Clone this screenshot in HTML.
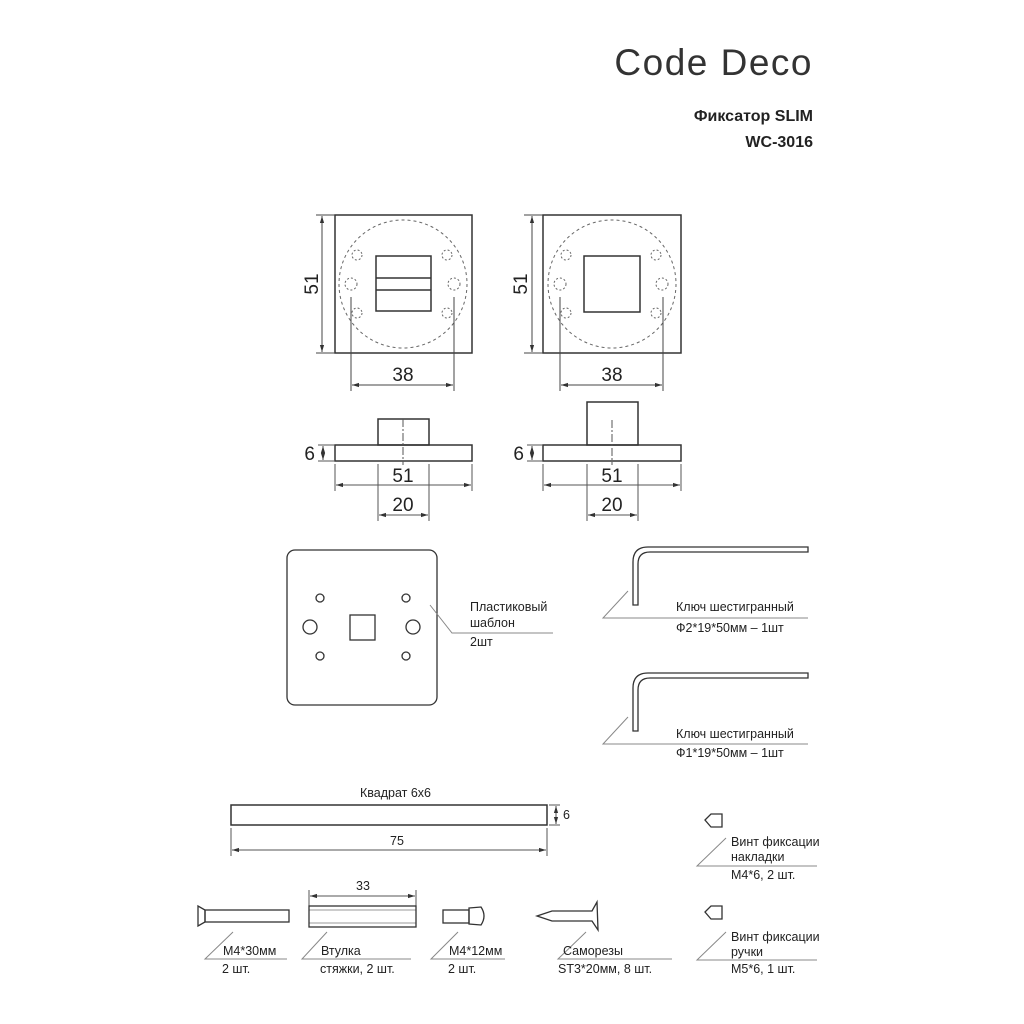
<!DOCTYPE html>
<html><head><meta charset="utf-8"><style>
html,body{margin:0;padding:0;background:#fff;}
svg{display:block;}
text{font-family:"Liberation Sans","Noto Sans CJK SC",sans-serif;fill:#222;}
.l{font-size:12.5px;}
.d{font-size:19px;}
</style></head><body>
<svg width="1024" height="1024" viewBox="0 0 1024 1024" xmlns="http://www.w3.org/2000/svg">
<defs>
<marker id="a" viewBox="0 0 10 10" refX="10" refY="5" markerWidth="7" markerHeight="7" orient="auto-start-reverse"><path d="M0,2 L10,5 L0,8 z" fill="#333"/></marker>
</defs>
<text x="813" y="75" text-anchor="end" style="font-size:37px;letter-spacing:1.5px;fill:#333">Code Deco</text>
<text x="813" y="121" text-anchor="end" style="font-size:16px;font-weight:bold">Фиксатор SLIM</text>
<text x="813" y="147" text-anchor="end" style="font-size:16px;font-weight:bold">WC-3016</text>

<g stroke="#333" fill="none" stroke-width="1.5">
<rect x="335" y="215" width="137" height="138"/>
<circle cx="403" cy="284" r="64" stroke-dasharray="3,3" stroke-width="1" stroke="#666"/>
<rect x="376" y="256" width="55" height="55"/>
<line x1="376" y1="278" x2="431" y2="278"/><line x1="376" y1="290" x2="431" y2="290"/>
<g stroke-dasharray="2,2" stroke-width="1" stroke="#666">
<circle cx="357" cy="255" r="5"/><circle cx="357" cy="313" r="5"/><circle cx="351" cy="284" r="6"/>
<circle cx="447" cy="255" r="5"/><circle cx="447" cy="313" r="5"/><circle cx="454" cy="284" r="6"/>
</g>
<rect x="543" y="215" width="138" height="138"/>
<circle cx="612" cy="284" r="64" stroke-dasharray="3,3" stroke-width="1" stroke="#666"/>
<rect x="584" y="256" width="56" height="56"/>
<g stroke-dasharray="2,2" stroke-width="1" stroke="#666">
<circle cx="566" cy="255" r="5"/><circle cx="566" cy="313" r="5"/><circle cx="560" cy="284" r="6"/>
<circle cx="656" cy="255" r="5"/><circle cx="656" cy="313" r="5"/><circle cx="662" cy="284" r="6"/>
</g>
</g>
<g stroke="#444" fill="none" stroke-width="1">
<line x1="316" y1="215" x2="335" y2="215"/><line x1="316" y1="353" x2="335" y2="353"/>
<line x1="322" y1="216" x2="322" y2="352" marker-start="url(#a)" marker-end="url(#a)"/>
<line x1="524" y1="215" x2="543" y2="215"/><line x1="524" y1="353" x2="543" y2="353"/>
<line x1="532" y1="216" x2="532" y2="352" marker-start="url(#a)" marker-end="url(#a)"/>
<line x1="351" y1="297" x2="351" y2="391"/><line x1="454" y1="297" x2="454" y2="391"/>
<line x1="352" y1="385" x2="453" y2="385" marker-start="url(#a)" marker-end="url(#a)"/>
<line x1="560" y1="297" x2="560" y2="391"/><line x1="663" y1="297" x2="663" y2="391"/>
<line x1="561" y1="385" x2="662" y2="385" marker-start="url(#a)" marker-end="url(#a)"/>
</g>
<text class="d" transform="translate(318,284) rotate(-90)" text-anchor="middle">51</text>
<text class="d" transform="translate(527,284) rotate(-90)" text-anchor="middle">51</text>
<text class="d" x="403" y="381" text-anchor="middle">38</text>
<text class="d" x="612" y="381" text-anchor="middle">38</text>

<g stroke="#333" fill="none" stroke-width="1.5">
<rect x="335" y="445" width="137" height="16"/><rect x="378" y="419" width="51" height="26"/>
<rect x="543" y="445" width="138" height="16"/><rect x="587" y="402" width="51" height="43"/>
</g>
<g stroke="#555" fill="none" stroke-width="1">
<line x1="403" y1="419" x2="403" y2="465" stroke-dasharray="8,2,2,2"/>
<line x1="612" y1="420" x2="612" y2="465" stroke-dasharray="8,2,2,2"/>
<line x1="318" y1="445" x2="335" y2="445"/><line x1="318" y1="461" x2="335" y2="461"/>
<line x1="323" y1="446" x2="323" y2="460" marker-start="url(#a)" marker-end="url(#a)"/>
<line x1="527" y1="445" x2="543" y2="445"/><line x1="527" y1="461" x2="543" y2="461"/>
<line x1="532" y1="446" x2="532" y2="460" marker-start="url(#a)" marker-end="url(#a)"/>
<line x1="335" y1="464" x2="335" y2="491"/><line x1="472" y1="464" x2="472" y2="491"/>
<line x1="336" y1="485" x2="471" y2="485" marker-start="url(#a)" marker-end="url(#a)"/>
<line x1="543" y1="464" x2="543" y2="491"/><line x1="681" y1="464" x2="681" y2="491"/>
<line x1="544" y1="485" x2="680" y2="485" marker-start="url(#a)" marker-end="url(#a)"/>
<line x1="378" y1="464" x2="378" y2="521"/><line x1="429" y1="464" x2="429" y2="521"/>
<line x1="379" y1="515" x2="428" y2="515" marker-start="url(#a)" marker-end="url(#a)"/>
<line x1="587" y1="464" x2="587" y2="521"/><line x1="638" y1="464" x2="638" y2="521"/>
<line x1="588" y1="515" x2="637" y2="515" marker-start="url(#a)" marker-end="url(#a)"/>
</g>
<text class="d" x="315" y="460" text-anchor="end">6</text>
<text class="d" x="524" y="460" text-anchor="end">6</text>
<text class="d" x="403" y="482" text-anchor="middle">51</text>
<text class="d" x="612" y="482" text-anchor="middle">51</text>
<text class="d" x="403" y="511" text-anchor="middle">20</text>
<text class="d" x="612" y="511" text-anchor="middle">20</text>

<g stroke="#333" fill="none" stroke-width="1.3">
<rect x="287" y="550" width="150" height="155" rx="8"/>
<circle cx="320" cy="598" r="4"/><circle cx="406" cy="598" r="4"/>
<circle cx="320" cy="656" r="4"/><circle cx="406" cy="656" r="4"/>
<circle cx="310" cy="627" r="7"/><circle cx="413" cy="627" r="7"/>
<rect x="350" y="615" width="25" height="25"/>
</g>
<polyline points="430,605 452,633 553,633" stroke="#888" fill="none" stroke-width="1"/>
<text class="l" x="470" y="611">Пластиковый</text>
<text class="l" x="470" y="627">шаблон</text>
<text class="l" x="470" y="646">2шт</text>

<g stroke="#333" fill="none" stroke-width="1.3">
<path d="M633,605 L633,562 Q633,547 648,547 L808,547 L808,552 L650,552 Q638,552 638,564 L638,605 Z"/>
<path d="M633,731 L633,688 Q633,673 648,673 L808,673 L808,678 L650,678 Q638,678 638,690 L638,731 Z"/>
</g>
<g stroke="#888" fill="none" stroke-width="1">
<polyline points="628,591 603,618 808,618"/>
<polyline points="628,717 603,744 808,744"/>
</g>
<text class="l" x="676" y="611">Ключ шестигранный</text>
<text class="l" x="676" y="632">Ф2*19*50мм – 1шт</text>
<text class="l" x="676" y="738">Ключ шестигранный</text>
<text class="l" x="676" y="757">Ф1*19*50мм – 1шт</text>

<rect x="231" y="805" width="316" height="20" stroke="#333" fill="none" stroke-width="1.5"/>
<g stroke="#555" fill="none" stroke-width="1">
<line x1="549" y1="805" x2="560" y2="805"/><line x1="549" y1="825" x2="560" y2="825"/>
<line x1="556" y1="806" x2="556" y2="824" marker-start="url(#a)" marker-end="url(#a)"/>
<line x1="231" y1="828" x2="231" y2="856"/><line x1="547" y1="828" x2="547" y2="856"/>
<line x1="232" y1="850" x2="546" y2="850" marker-start="url(#a)" marker-end="url(#a)"/>
<line x1="309" y1="890" x2="309" y2="906"/><line x1="416" y1="890" x2="416" y2="906"/>
<line x1="310" y1="896" x2="415" y2="896" marker-start="url(#a)" marker-end="url(#a)"/>
</g>
<text class="l" x="360" y="797">Квадрат 6х6</text>
<text class="l" x="563" y="819">6</text>
<text class="l" x="390" y="845">75</text>
<text class="l" x="356" y="890">33</text>

<g stroke="#333" fill="none" stroke-width="1.3">
<path d="M198,906 L198,926 L205,922 L205,910 Z"/><rect x="205" y="910" width="84" height="12"/>
<rect x="309" y="906" width="107" height="21"/>
<line x1="309" y1="910" x2="416" y2="910" stroke-width="0.6"/><line x1="309" y1="923" x2="416" y2="923" stroke-width="0.6"/>
<rect x="443" y="910" width="26" height="13"/><path d="M469,908 L481,907 Q487,916 481,925 L469,924 Z"/>
<path d="M537,916 L552,911 L592,911 L597,902 L598,930 L592,921 L552,921 Z"/>
<path d="M705,820 L711,814 L722,814 L722,827 L711,827 Z"/>
<path d="M705,912 L711,906 L722,906 L722,919 L711,919 Z"/>
</g>
<g stroke="#888" fill="none" stroke-width="1">
<polyline points="233,932 205,959 287,959"/>
<polyline points="327,932 302,959 411,959"/>
<polyline points="458,932 431,959 505,959"/>
<polyline points="586,932 558,959 672,959"/>
<polyline points="726,838 697,866 817,866"/>
<polyline points="726,932 697,960 817,960"/>
</g>
<text class="l" x="223" y="955">M4*30мм</text>
<text class="l" x="222" y="973">2 шт.</text>
<text class="l" x="321" y="955">Втулка</text>
<text class="l" x="320" y="973">стяжки, 2 шт.</text>
<text class="l" x="449" y="955">M4*12мм</text>
<text class="l" x="448" y="973">2 шт.</text>
<text class="l" x="563" y="955">Саморезы</text>
<text class="l" x="558" y="973">ST3*20мм, 8 шт.</text>
<text class="l" x="731" y="846">Винт фиксации</text>
<text class="l" x="731" y="861">накладки</text>
<text class="l" x="731" y="879">M4*6, 2 шт.</text>
<text class="l" x="731" y="941">Винт фиксации</text>
<text class="l" x="731" y="956">ручки</text>
<text class="l" x="731" y="973">M5*6, 1 шт.</text>
</svg>
</body></html>
